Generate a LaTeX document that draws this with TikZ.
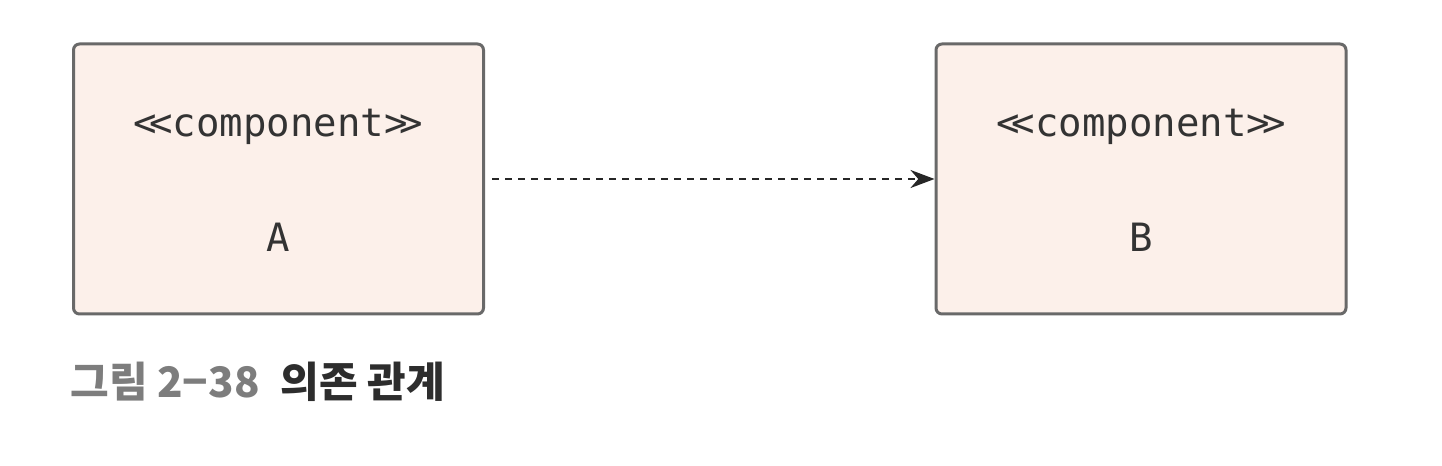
\documentclass[tikz,border=0pt]{standalone}
\usepackage{fontspec}
\setmonofont{DejaVu Sans Mono}
\newfontfamily\cjk{Noto Sans CJK KR}
\usetikzlibrary{calc,arrows.meta}
\definecolor{boxfill}{RGB}{252,240,234}
\definecolor{boxline}{RGB}{105,105,105}
\definecolor{capgray}{RGB}{125,125,125}
\definecolor{capdark}{RGB}{45,45,45}

\begin{document}
\begin{tikzpicture}[x=0.5pt,y=0.5pt,
  comp/.style={draw=boxline,fill=boxfill,line width=1.5pt,rounded corners=3pt,
    minimum width=205pt,minimum height=135pt},
  txt/.style={font=\ttfamily\fontsize{19.5}{22}\selectfont,text=black!80},
  dep/.style={black!85,line width=1.2pt,dash pattern=on 3.5pt off 3pt,
    -{Stealth[length=12pt,width=9pt]}}]
  \useasboundingbox (0,0) rectangle (1442,466);
  \node[comp] (A) at (278.5,287) {};
  \node[comp] (B) at (1141,287) {};
  \node[txt] (stA) at ($(A.center)+(0,52)$) {<\kern-0.2em<component>\kern-0.2em>};
  \node[txt] (nA) at ($(A.center)+(0,-58)$) {A};
  \node[txt] (stB) at ($(B.center)+(0,52)$) {<\kern-0.2em<component>\kern-0.2em>};
  \node[txt] (nB) at ($(B.center)+(0,-58)$) {B};
  \draw[dep] ([xshift=3.5pt]A.east) -- (B.west);
%  caption
  \node[anchor=base west,inner sep=0pt,font=\cjk\bfseries\fontsize{21}{24}\selectfont] (cap) at (70,68)
    {\textcolor{capgray}{그림 2−38}\hspace{0.5em}\textcolor{capdark}{의존 관계}};
\end{tikzpicture}
\end{document}
